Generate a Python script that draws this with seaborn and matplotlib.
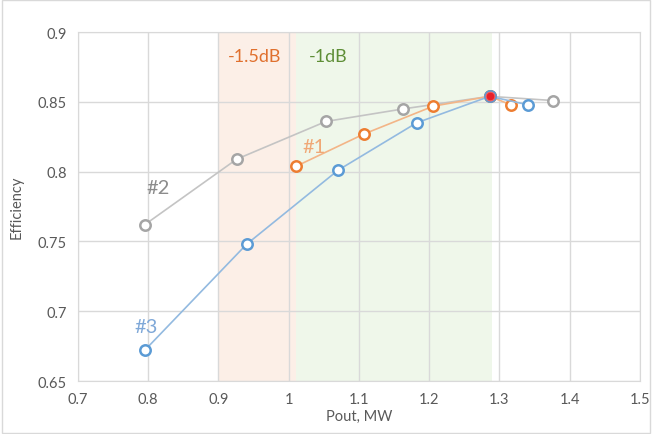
import matplotlib
matplotlib.use("Agg")
import matplotlib.pyplot as plt
import seaborn as sns
import pandas as pd

# Data
s1_x = [1.011, 1.107, 1.206, 1.286, 1.316]
s1_y = [0.804, 0.827, 0.847, 0.854, 0.848]
s2_x = [0.795, 0.926, 1.053, 1.163, 1.286, 1.376]
s2_y = [0.762, 0.809, 0.836, 0.845, 0.854, 0.851]
s3_x = [0.795, 0.940, 1.070, 1.182, 1.286, 1.340]
s3_y = [0.672, 0.748, 0.801, 0.835, 0.854, 0.848]
red_x = [1.286]
red_y = [0.854]
band_15 = [0.9, 1.01]
band_1 = [1.01, 1.29]
x_ticks = [0.7, 0.8, 0.9, 1.0, 1.1, 1.2, 1.3, 1.4, 1.5]
x_tick_labels = ["0.7", "0.8", "0.9", "1", "1.1", "1.2", "1.3", "1.4", "1.5"]
y_ticks = [0.65, 0.7, 0.75, 0.8, 0.85, 0.9]
y_tick_labels = ["0.65", "0.7", "0.75", "0.8", "0.85", "0.9"]

sns.set_style("white")
plt.rcParams['font.family'] = ['Lato', 'DejaVu Sans']

fig = plt.figure(figsize=(6.52, 4.35), dpi=100)
ax = fig.add_axes([0.1196, 0.1218, 0.862, 0.802])

ax.axvspan(band_15[0], band_15[1], color="#FCEFE7", zorder=0, lw=0)
ax.axvspan(band_1[0], band_1[1], color="#EFF7EA", zorder=0, lw=0)

series = [
    (s2_x, s2_y, "#C4C4C4", "#A5A5A5"),
    (s1_x, s1_y, "#F3B587", "#ED7D31"),
    (s3_x, s3_y, "#93BAE0", "#5B9BD5"),
]
for xs, ys, lc, mc in series:
    df = pd.DataFrame({"x": xs, "y": ys})
    sns.lineplot(data=df, x="x", y="y", sort=False, ax=ax, color=lc, lw=1.2,
                 marker="o", markersize=7.5, markerfacecolor="white",
                 markeredgecolor=mc, markeredgewidth=1.8, zorder=3)

dfr = pd.DataFrame({"x": red_x, "y": red_y})
sns.scatterplot(data=dfr, x="x", y="y", ax=ax, color="#E8202A", s=40,
                edgecolor="#F06060", linewidth=0.8, zorder=5)

ax.set_xlim(0.7, 1.5)
ax.set_ylim(0.65, 0.9)
ax.set_xticks(x_ticks)
ax.set_xticklabels(x_tick_labels)
ax.set_yticks(y_ticks)
ax.set_yticklabels(y_tick_labels)
ax.grid(True, color="#D9D9D9", lw=1)
ax.set_axisbelow(True)
for sp in ax.spines.values():
    sp.set_color("#D9D9D9")
ax.tick_params(axis="both", colors="#595959", labelsize=10.5, length=0, pad=8)
ax.set_xlabel("Pout, MW", color="#595959", fontsize=10.5, labelpad=2)
ax.set_ylabel("Efficiency", color="#595959", fontsize=10.5, labelpad=10)

ax.text(0.914, 0.883, "-1.5dB", color="#E0702E", fontsize=13, va="center")
ax.text(1.029, 0.883, "-1dB", color="#5E8E36", fontsize=13, va="center")
ax.text(1.019, 0.818, "#1", color="#F0A876", fontsize=14.5, va="center")
ax.text(0.797, 0.789, "#2", color="#8C8C8C", fontsize=14.5, va="center")
ax.text(0.780, 0.689, "#3", color="#7FA8D8", fontsize=14.5, va="center")

border = plt.Rectangle((0.003, 0.003), 0.994, 0.994, transform=fig.transFigure,
                       fill=False, edgecolor="#D9D9D9", lw=1)
fig.patches.append(border)

fig.savefig("out.png", dpi=100)
